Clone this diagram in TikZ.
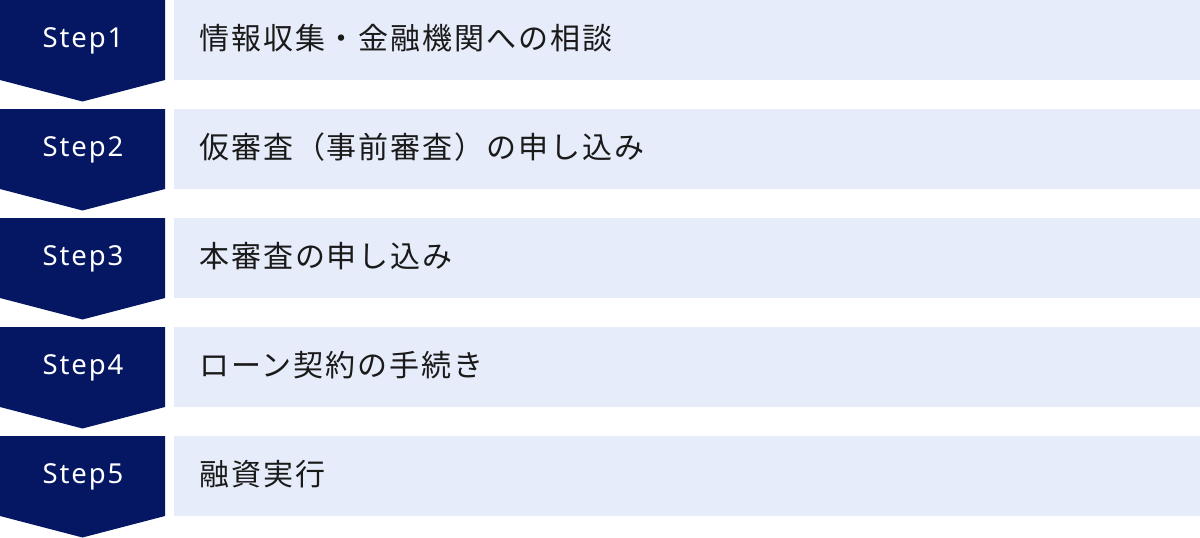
\documentclass[tikz,border=0pt]{standalone}
\usepackage{fontspec}
\setmainfont{Noto Sans CJK JP}
\newfontfamily\stepfont[LetterSpace=7]{Noto Sans}
\newfontfamily\jpfont[LetterSpace=6.5]{Noto Sans CJK JP}
\definecolor{navy}{HTML}{051763}
\definecolor{pale}{HTML}{E6ECF9}
\definecolor{ink}{HTML}{1A1A1A}
\tikzset{
  stepshape/.style={fill=navy,draw=none},
  barbox/.style={fill=pale,draw=none},
  steplabel/.style={text=white,font=\stepfont\fontsize{27.5}{30}\selectfont,inner sep=0pt,anchor=center},
  itemlabel/.style={text=ink,font=\jpfont\fontsize{30}{34}\selectfont,inner sep=0pt,anchor=west},
}
\begin{document}
\begin{tikzpicture}[x=1pt,y=-1pt]
\useasboundingbox (0,0) rectangle (1200,538);
\foreach \i/\t [count=\n from 1] in {0/情報収集・金融機関への相談,1/仮審査（事前審査）の申し込み,2/本審査の申し込み,3/ローン契約の手続き,4/融資実行}{
  \pgfmathsetmacro{\top}{109*\i}
  \fill[stepshape] (0,\top) -- (165,\top) -- (165,\top+80) -- (82.5,\top+101.5) -- (0,\top+80) -- cycle;
  \fill[barbox] (174,\top) rectangle (1200,\top+80);
  \node[steplabel] (s\n) at (83,\top+41) {Step\n};
  \node[itemlabel] (t\n) at (199,\top+38) {\t};
}
\end{tikzpicture}
\end{document}
